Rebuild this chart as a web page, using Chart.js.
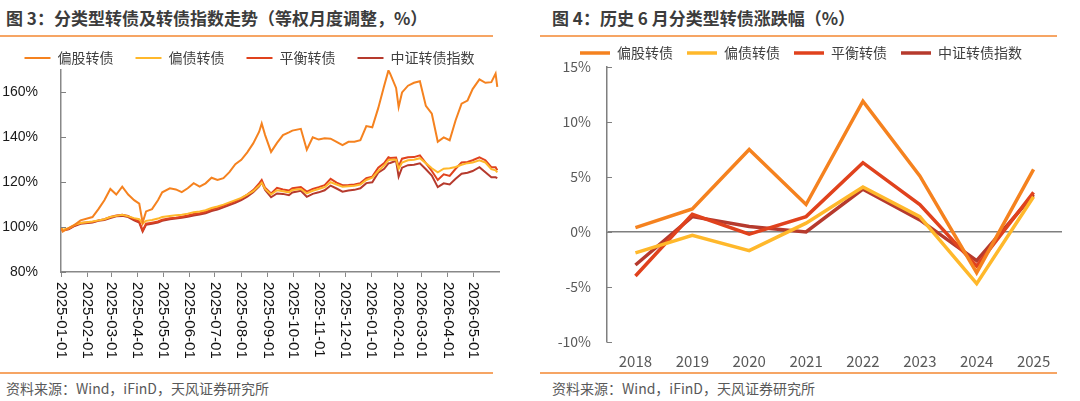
<!DOCTYPE html>
<html>
<head>
<meta charset="utf-8">
<script src="https://cdn.jsdelivr.net/npm/chart.js@4.4.1/dist/chart.umd.min.js"></script>
<style>
  body { margin: 0; width: 1080px; height: 401px; background: #fff; position: relative; overflow: hidden;
         font-family: "Noto Sans CJK SC", sans-serif; }
  .title { position: absolute; top: 6px; line-height: 24px; font-size: 17px; font-weight: bold; color: #3c3c3c; white-space: nowrap; }
  .rule { position: absolute; height: 2px; background: #F6A564; }
  .src { position: absolute; top: 378px; line-height: 20px; font-size: 14px; color: #595959; white-space: nowrap; }
  canvas { position: absolute; }
</style>
</head>
<body>
  <div class="title" style="left:6px">图 3：分类型转债及转债指数走势（等权月度调整，%）</div>
  <div class="rule" style="left:0; width:493px; top:35px"></div>
  <canvas id="trend" width="505" height="341" style="left:0; top:29px"></canvas>
  <div class="rule" style="left:0; width:493px; top:372px"></div>
  <div class="src" style="left:6px">资料来源：Wind，iFinD，天风证券研究所</div>

  <div class="title" style="left:552px">图 4：历史 6 月分类型转债涨跌幅（%）</div>
  <div class="rule" style="left:540px; width:517px; top:35px"></div>
  <canvas id="june" width="540" height="338" style="left:540px; top:32px"></canvas>
  <div class="rule" style="left:540px; width:517px; top:372px"></div>
  <div class="src" style="left:552px">资料来源：Wind，iFinD，天风证券研究所</div>

<script>
// ---- figure 3 data (sampled roughly weekly, % of start value) ----
const seriesNames = ['偏股转债', '偏债转债', '平衡转债', '中证转债指数'];
const seriesColors = ['#F5821F', '#FFB82B', '#E0421D', '#B63A2D'];

const dates = ['2025-01-01','2025-01-03','2025-01-10','2025-01-17','2025-01-24','2025-02-07','2025-02-14','2025-02-21',
  '2025-02-28','2025-03-07','2025-03-14','2025-03-21','2025-03-28','2025-04-03','2025-04-07','2025-04-11','2025-04-18',
  '2025-04-25','2025-04-30','2025-05-09','2025-05-16','2025-05-23','2025-05-30','2025-06-06','2025-06-13','2025-06-20',
  '2025-06-27','2025-07-04','2025-07-11','2025-07-18','2025-07-25','2025-08-01','2025-08-08','2025-08-15','2025-08-22',
  '2025-08-25','2025-08-29','2025-09-05','2025-09-12','2025-09-19','2025-09-26','2025-09-30','2025-10-10','2025-10-17',
  '2025-10-24','2025-10-31','2025-11-07','2025-11-14','2025-11-21','2025-11-28','2025-12-05','2025-12-12','2025-12-19',
  '2025-12-26','2026-01-02','2026-01-09','2026-01-16','2026-01-21','2026-01-23','2026-01-30','2026-02-02','2026-02-06',
  '2026-02-13','2026-02-20','2026-02-27','2026-03-06','2026-03-13','2026-03-20','2026-03-27','2026-04-03','2026-04-10',
  '2026-04-17','2026-04-24','2026-04-30','2026-05-08','2026-05-15','2026-05-22','2026-05-27','2026-05-29'];

const equityBiased = [99.6,98,99.5,101,103,104.5,108,112,117,114.5,118,114.5,112,110.5,102,107,108,112,115.5,117.3,116.8,
  115.6,117.3,119.6,118,119.5,122,121,121.8,124.5,128,130,133.3,137.3,142.5,146.2,141,133.5,137.5,141,142.2,143,143.8,
  134.5,140,139,139.6,139.4,138,136.5,138,138,138.7,145,144.5,153,163,169.8,168.4,162,153.5,160,163,164.3,165,154,150.5,
  138,140,138.7,147.6,155,156.4,161.5,165.8,164.3,164.6,168.4,162.5];

const debtBiased = [99.5,98.8,99.5,101,101.8,102.5,103,103.5,104.5,105,105.5,104.8,104,103.5,101.5,102.8,103.2,103.8,104.5,
  105,105.3,105.5,106,106.6,107,107.5,108.5,109.2,110,111,112,113,114.5,116,118.5,119.8,117,114.5,116.4,116,115.5,116.5,117,
  115,116.2,117,117.8,120,119,118,118.2,118.4,119,121,122,125,127.5,129.8,130,130,126,128.8,129.8,130,130.7,128.5,126.2,
  124.4,126,126.2,126.8,127.8,128.5,128.8,129.8,128.8,125.8,125.3,124.4];

const balanced = [99.5,98.5,99.2,100.8,101.8,102.3,103,103.5,104.5,105.2,105.5,105,103.5,102.5,98.5,101.5,102,102.5,103.3,
  104,104.2,104.6,105.2,105.8,106.2,106.8,107.8,108.5,109.5,110.5,111.5,112.8,114.5,116.5,119.5,121,117.5,115,117.5,116.8,
  116.3,117.3,117.8,115.8,117,117.8,118.7,121.5,119.8,118.7,118.8,119,119.6,121.8,122.5,126.5,128.5,131.1,130.8,131,127,
  130.5,131.1,131.2,132,128.5,125,121,123.5,122.8,126,128.8,129,129.8,131.1,129.8,126.7,126.7,125.3];

const cbIndex = [99.3,98.5,99,100.5,101.5,102,102.8,103.2,104,104.8,105,104.5,103,102,98,101,101.5,102,102.8,103.5,103.8,
  104.2,104.6,105.2,105.6,106.2,107.2,107.8,108.8,109.8,110.8,112,113.6,115.5,118.2,120,116.5,113.3,115,114.8,114.2,115.4,
  116.2,113.5,114.8,115.5,116.4,118.5,117.2,115.8,116.3,116.6,117.3,119.6,120,124.2,126,128.4,128.6,129.5,122.5,126.5,
  127.6,127.8,128.4,125.8,123,117.8,119.5,119,121.5,123.8,124.2,125,126.7,124.4,122.2,122.2,121.8];

const monthTicks = ['2025-01-01','2025-02-01','2025-03-01','2025-04-01','2025-05-01','2025-06-01','2025-07-01','2025-08-01',
  '2025-09-01','2025-10-01','2025-11-01','2025-12-01','2026-01-01','2026-02-01','2026-03-01','2026-04-01','2026-05-01'];
const trendYTicks = [80, 100, 120, 140, 160];

// ---- figure 4 data (June returns, %) ----
const years = ['2018','2019','2020','2021','2022','2023','2024','2025'];
const juneEquity = [0.4, 2.1, 7.5, 2.5, 11.9, 5.1, -3.7, 5.7];
const juneDebt = [-1.9, -0.3, -1.7, 0.8, 4.1, 1.4, -4.7, 3.2];
const juneBalanced = [-4.0, 1.6, -0.2, 1.4, 6.3, 2.5, -3.1, 3.6];
const juneIndex = [-3.0, 1.4, 0.5, 0.0, 3.9, 1.1, -2.6, 3.4];
const juneYTicks = [-10, -5, 0, 5, 10, 15];

const cjk = '"Noto Sans CJK SC", sans-serif';
const dayIndex = s => (Date.UTC(+s.slice(0, 4), +s.slice(5, 7) - 1, +s.slice(8, 10)) - Date.UTC(2025, 0, 1)) / 86400000;

// small tick marks drawn inside the y axis
const innerTicks = {
  id: 'innerTicks',
  afterDraw(chart) {
    const y = chart.scales.y, ctx = chart.ctx;
    ctx.save();
    ctx.strokeStyle = '#808080';
    ctx.lineWidth = 1;
    y.ticks.forEach(t => {
      const py = Math.round(y.getPixelForValue(t.value)) + 0.5;
      ctx.beginPath();
      ctx.moveTo(y.right, py);
      ctx.lineTo(y.right + 5, py);
      ctx.stroke();
    });
    ctx.restore();
  }
};

// date labels read top-to-bottom under the x axis
const verticalDates = {
  id: 'verticalDates',
  afterDraw(chart) {
    const x = chart.scales.x, ctx = chart.ctx;
    ctx.save();
    ctx.fillStyle = '#111';
    ctx.font = '15px "Liberation Sans", Arial, sans-serif';
    ctx.textAlign = 'left';
    ctx.textBaseline = 'middle';
    monthTicks.forEach(m => {
      ctx.save();
      ctx.translate(x.getPixelForValue(dayIndex(m)), x.top + 10);
      ctx.rotate(Math.PI / 2);
      ctx.fillText(m, 0, 0);
      ctx.restore();
    });
    ctx.restore();
  }
};

const trendValues = [equityBiased, debtBiased, balanced, cbIndex];

new Chart(document.getElementById('trend'), {
  type: 'line',
  data: {
    datasets: trendValues.map((vals, k) => ({
      label: seriesNames[k],
      data: dates.map((d, i) => ({ x: dayIndex(d), y: vals[i] })),
      borderColor: seriesColors[k],
      backgroundColor: seriesColors[k],
      borderWidth: 2,
      pointRadius: 0,
      tension: 0
    }))
  },
  options: {
    responsive: false,
    animation: false,
    layout: { padding: { left: 0, right: 6, top: 0, bottom: 0 } },
    plugins: {
      tooltip: { enabled: false },
      legend: {
        maxHeight: 41,
        labels: {
          usePointStyle: true, pointStyle: 'line', pointStyleWidth: 26,
          padding: 22, color: '#404040', font: { size: 14, family: cjk }
        }
      }
    },
    scales: {
      x: {
        type: 'linear', min: 0, max: 515,
        afterBuildTicks: s => { s.ticks = monthTicks.map(m => ({ value: dayIndex(m) })); },
        afterFit: s => { s.height = 98; },
        ticks: { color: 'rgba(0,0,0,0)', autoSkip: false, maxRotation: 90, minRotation: 90, font: { size: 15 } },
        grid: { drawOnChartArea: false, tickLength: 5, color: '#888' },
        border: { color: '#888', width: 1.5 }
      },
      y: {
        min: 80, max: 170,
        afterBuildTicks: s => { s.ticks = trendYTicks.map(v => ({ value: v })); },
        afterFit: s => { s.width = 61; },
        ticks: { callback: v => v + '%', padding: 15, color: '#1a1a1a', font: { size: 14, family: '"Liberation Sans", Arial, sans-serif' } },
        grid: { display: false },
        border: { color: '#888', width: 1.5 }
      }
    }
  },
  plugins: [innerTicks, verticalDates]
});

const juneValues = [juneEquity, juneDebt, juneBalanced, juneIndex];

new Chart(document.getElementById('june'), {
  type: 'line',
  data: {
    labels: years,
    datasets: juneValues.map((vals, k) => ({
      label: seriesNames[k],
      data: vals,
      borderColor: seriesColors[k],
      backgroundColor: seriesColors[k],
      borderWidth: 3.5,
      pointRadius: 0,
      tension: 0
    }))
  },
  options: {
    responsive: false,
    animation: false,
    layout: { padding: { left: 0, right: 18, top: 0, bottom: 0 } },
    plugins: {
      tooltip: { enabled: false },
      legend: {
        maxHeight: 35,
        labels: {
          usePointStyle: true, pointStyle: 'line', pointStyleWidth: 30,
          padding: 14, color: '#404040', font: { size: 14, family: cjk }
        }
      }
    },
    scales: {
      x: {
        offset: true,
        afterFit: s => { s.height = 28; },
        ticks: { color: '#595959', padding: 10, font: { size: 15, family: cjk } },
        grid: { display: false, drawTicks: false },
        border: { display: false }
      },
      y: {
        min: -10, max: 15,
        afterBuildTicks: s => { s.ticks = juneYTicks.map(v => ({ value: v })); },
        afterFit: s => { s.width = 67; },
        ticks: { callback: v => v + '%', padding: 16, color: '#595959', font: { size: 14, family: cjk } },
        grid: { drawTicks: false, lineWidth: 1.5, color: c => (c.tick && c.tick.value === 0 ? '#7f7f7f' : 'rgba(0,0,0,0)') },
        border: { color: '#7f7f7f', width: 1.5 }
      }
    }
  },
  plugins: [innerTicks]
});
</script>
</body>
</html>
